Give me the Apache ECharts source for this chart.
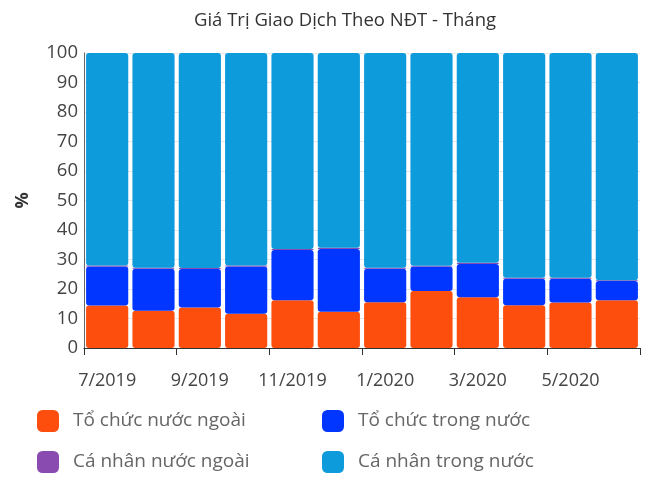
<!DOCTYPE html>
<html>
<head>
<meta charset="utf-8">
<script src="https://cdn.jsdelivr.net/npm/echarts@6/dist/echarts.min.js"></script>
<style>
	html, body { margin: 0; padding: 0; background: #fff; }
	#chart { width: 650px; height: 479px; }
</style>
</head>
<body>
<div id="chart"></div>
<script>
	var months = ['7/2019', '8/2019', '9/2019', '10/2019', '11/2019', '12/2019', '1/2020', '2/2020', '3/2020', '4/2020', '5/2020', '6/2020']
	// % theo tung nhom NDT
	var toChucNN = [14.4, 12.6, 13.7, 11.6, 16.2, 12.3, 15.5, 19.3, 17.2, 14.5, 15.4, 16.2]
	var toChucTN = [13.2, 14.3, 13.1, 16.0, 17.0, 21.3, 11.4, 8.3, 11.3, 9.0, 8.1, 6.5]
	var caNhanNN = [0.4, 0.3, 0.3, 0.4, 0.4, 0.4, 0.3, 0.3, 0.4, 0.3, 0.3, 0.3]
	var caNhanTN = [72.0, 72.8, 72.9, 72.0, 66.4, 66.0, 72.8, 72.1, 71.1, 76.2, 76.2, 77.0]
	var yTicks = [0, 10, 20, 30, 40, 50, 60, 70, 80, 90, 100]

	var colors = ['#fd4e0e', '#0036ff', '#8a4bb0', '#0e9bdb']
	var names = ['Tổ chức nước ngoài', 'Tổ chức trong nước', 'Cá nhân nước ngoài', 'Cá nhân trong nước']
	var values = [toChucNN, toChucTN, caNhanNN, caNhanTN]

	var chart = echarts.init(document.getElementById('chart'))

	var series = values.map(function (d, i) {
		return {
			name: names[i],
			type: 'bar',
			stack: 'all',
			data: d,
			barCategoryGap: '9%',
			itemStyle: { color: colors[i], borderRadius: 3 }
		}
	})

	// 4 legend items, dat tung cai mot cho dung vi tri
	var legendPos = [[37, 410], [322, 410], [37, 451], [322, 451]]
	var legends = names.map(function (n, i) {
		return {
			data: [n],
			left: legendPos[i][0],
			top: legendPos[i][1],
			padding: 0,
			icon: 'roundRect',
			itemWidth: 22,
			itemHeight: 22,
			itemGap: 0,
			selectedMode: false,
			textStyle: { fontSize: 19, color: '#666', fontFamily: 'Open Sans', padding: [0, 0, 0, 9] }
		}
	})

	chart.setOption({
		animation: false,
		color: colors,
		title: {
			text: 'Giá Trị Giao Dịch Theo NĐT - Tháng',
			left: 340,
			textAlign: 'center',
			top: 6,
			textStyle: { fontSize: 18.5, fontWeight: 'normal', color: '#333', fontFamily: 'Open Sans' }
		},
		legend: legends,
		grid: { left: 84, right: 10, top: 53, bottom: 131 },
		xAxis: {
			type: 'category',
			data: months,
			axisLine: { lineStyle: { color: '#333' } },
			axisTick: { show: true, interval: 1, length: 7, alignWithLabel: false, lineStyle: { color: '#333' } },
			axisLabel: { interval: 1, margin: 24, fontSize: 18, color: '#444', fontFamily: 'Open Sans' }
		},
		yAxis: {
			type: 'value',
			min: yTicks[0],
			max: yTicks[yTicks.length - 1],
			interval: 10,
			name: '%',
			nameLocation: 'middle',
			nameGap: 52,
			nameTextStyle: { fontSize: 18, fontWeight: 'bold', color: '#333', fontFamily: 'Open Sans' },
			axisLine: { show: true, lineStyle: { color: '#666' } },
			axisTick: { show: false },
			axisLabel: { fontSize: 18.5, color: '#444', margin: 6, fontFamily: 'Open Sans' },
			splitLine: { lineStyle: { color: '#e6e6e6' } }
		},
		series: series
	})
</script>
</body>
</html>
